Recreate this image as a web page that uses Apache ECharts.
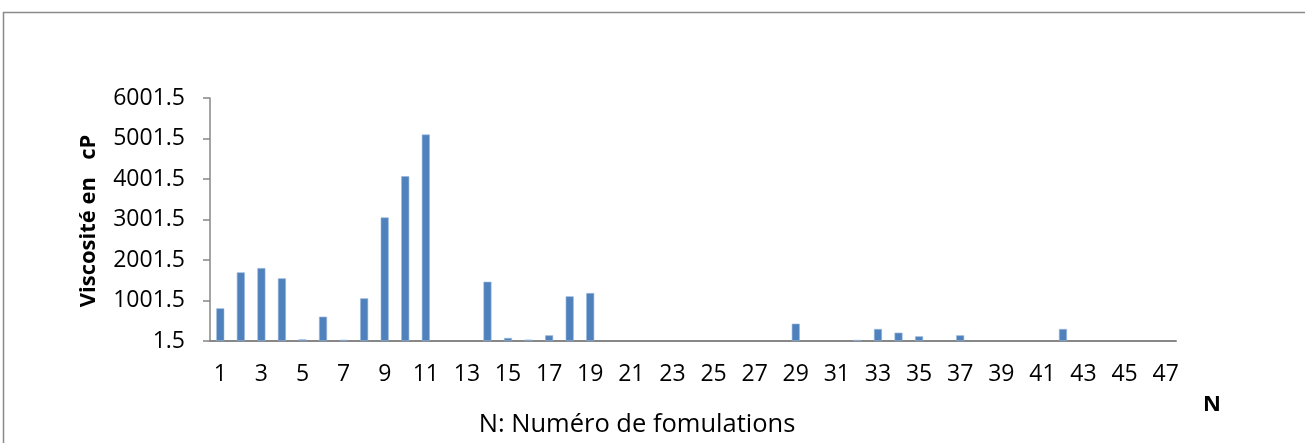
<!DOCTYPE html>
<html>
<head>
<meta charset="utf-8">
<script src="https://cdn.jsdelivr.net/npm/echarts@6/dist/echarts.min.js"></script>
<style>
html,body{margin:0;padding:0;background:#fff;}
#chart{width:1305px;height:443px;}
</style>
</head>
<body>
<div id="chart"></div>
<script>
// Categories: formulation numbers 1..47
var categories = ['1','2','3','4','5','6','7','8','9','10','11','12','13','14','15','16','17','18','19','20',
  '21','22','23','24','25','26','27','28','29','30','31','32','33','34','35','36','37','38','39','40',
  '41','42','43','44','45','46','47'];
// Viscosity (cP); null = no visible bar
var viscosity = [808, 1696, 1802, 1548, 42, 602, 32, 1055, 3052, 4071, 5099, null, null, 1465, 76, 35, 142, 1104, 1186, null,
  null, null, null, null, null, null, null, null, 429, null, null, 27, 298, 207, 117, null, 142, null, null, null,
  null, 298, null, null, null, null, null];
// Axis baseline and tick values
var axisBase = 1.5;
var yTickLabels = ['1.5','1001.5','2001.5','3001.5','4001.5','5001.5','6001.5'];
var yAxisTitle = 'Viscosité en   cP';
var xAxisTitle = 'N: Numéro de fomulations';
var xCornerLabel = 'N';

var plotted = viscosity.map(function(v){ return v === null ? null : v - axisBase; });

var chart = echarts.init(document.getElementById('chart'), null, {renderer:'canvas'});
var FONT = 'Open Sans';
chart.setOption({
  animation:false,
  grid:{left:210, right:129, top:98, bottom:102, containLabel:false},
  xAxis:{
    type:'category', data:categories,
    axisLine:{lineStyle:{color:'#878787', width:2}},
    axisTick:{show:false},
    axisLabel:{interval:1, color:'#000', fontFamily:FONT, fontSize:23, margin:22}
  },
  yAxis:{
    type:'value', min:0, max:6000, interval:1000,
    axisLine:{show:true, lineStyle:{color:'#878787', width:1.5}},
    axisTick:{show:true, inside:false, length:7, lineStyle:{color:'#878787', width:1.5}},
    splitLine:{show:false},
    axisLabel:{color:'#000', fontFamily:FONT, fontSize:23, margin:25,
      formatter:function(v){ var i = Math.round(v/1000); return yTickLabels[i]; }}
  },
  series:[{
    type:'bar', data:plotted, barWidth:8,
    itemStyle:{color:'#4F81BD', borderColor:'#9bb7dc', borderWidth:0.6}
  }],
  graphic:[
    {type:'rect', shape:{x:3.5, y:12.5, width:1400, height:500}, style:{fill:null, stroke:'#8a8a8a', lineWidth:1.5}, silent:true},
    {type:'text', x:89, y:221, rotation:Math.PI/2, style:{text:yAxisTitle, font:'bold 22px "Open Sans"', fill:'#000', align:'center', verticalAlign:'middle'}},
    {type:'text', x:637, y:425, style:{text:xAxisTitle, font:'25.5px "Open Sans"', fill:'#000', align:'center', verticalAlign:'middle'}},
    {type:'text', x:1212, y:405, style:{text:xCornerLabel, font:'bold 22px "Open Sans"', fill:'#000', align:'center', verticalAlign:'middle'}}
  ]
});
</script>
</body>
</html>
